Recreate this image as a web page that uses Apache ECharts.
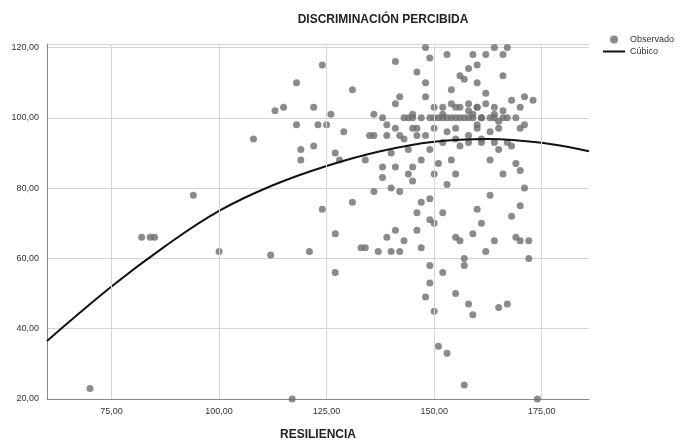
<!DOCTYPE html>
<html lang="es">
<head>
<meta charset="UTF-8">
<script src="https://cdn.jsdelivr.net/npm/echarts@6/dist/echarts.min.js"></script>
<style>body{margin:0;background:#fff}#c{width:684px;height:446px}</style>
</head>
<body>
<div id="c"></div>
<script>
// observed points [resiliencia, discriminacion]
const observed = [
  [70,23],[82,66],[84,66],[85,66],[94,78],[100,62],[108,94],[112,61],[113,102],[115,103],[117,20],[118,110],[118,98],
  [119,91],[119,88],[121,62],[122,103],[122,92],[123,98],[124,74],[124,115],[125,98],[126,101],[127,90],[127,67],[127,56],
  [128,88],[129,96],[131,76],[131,108],[133,63],[134,63],[134,88],[135,95],[136,101],[136,79],[137,62],[138,100],[138,86],
  [139,66],[139,98],[140,62],[140,90],[140,80],[141,68],[141,104],[141,116],[141,97],[142,106],[142,62],[142,79],[143,65],
  [143,94],[144,100],[144,84],[145,86],[145,82],[145,101],[146,113],[146,97],[146,68],[147,88],[147,63],[147,76],[148,110],
  [148,120],[148,95],[148,106],[148,49],[149,58],[149,71],[149,53],[149,117],[149,91],[150,100],[150,70],[150,45],[150,84],
  [151,35],[151,87],[152,56],[152,73],[152,101],[153,118],[153,96],[153,33],[154,100],[154,88],[154,108],[155,103],[155,50],
  [155,66],[156,65],[156,92],[156,100],[157,111],[157,58],[157,60],[157,24],[158,102],[158,114],[158,95],[158,47],[159,118],
  [159,101],[159,67],[159,44],[160,98],[160,103],[160,74],[160,110],[161,70],[161,93],[161,100],[162,62],[162,107],[162,118],
  [163,88],[163,96],[164,101],[164,65],[164,120],[165,91],[165,99],[165,46],[166,84],[166,102],[166,112],[167,93],[167,47],
  [167,120],[168,105],[168,92],[168,72],[169,100],[169,66],[169,87],[170,103],[170,85],[170,75],[170,65],[171,98],[171,106],
  [172,65],[172,60],[173,105],[174,20],[166,118],[156,112],[160,115],
  [143,100],[145,100],[147,100],[149,100],[151,100],[152,100],[153,100],[155,100],[157,100],[158,100],[159,100],[161,100],
  [163,100],[164,100],[166,100],[167,100],[150,103],[152,103],[154,104],[156,103],[158,104],[160,103],[162,104],[164,103],
  [145,97],[150,97],[155,97],[160,97],[165,97],[170,97],[152,93],[155,94],[158,93],[161,94],[164,93],
  [136,95],[139,95],[142,95],[146,95],[144,91],[141,86],[138,83],[153,81],[149,77],[146,73],[155,84],[163,78],[171,80]
];
// fitted cubic
const curve = [[60,36.5],[75,52],[87.5,63.5],[100,73.5],[112.5,80.8],[125,86.3],[137.5,90.5],[150,93.2],[162.5,94],[175,92.9],[186,90.5]];
const xTicks = [75,100,125,150,175];

const chart = echarts.init(document.getElementById('c'));
const fmt = v => v.toFixed(2).replace('.', ',');
chart.setOption({
  animation: false,
  textStyle: {fontFamily: 'Liberation Sans'},
  title: {text: 'DISCRIMINACIÓN PERCIBIDA', left: 378, top: 9, textAlign: 'center',
    textStyle: {fontSize: 12, fontWeight: 'bold', color: '#222'}},
  legend: {orient: 'vertical', left: 598, top: 30, itemGap: 3, itemWidth: 22, itemHeight: 8,
    textStyle: {fontSize: 9, color: '#333'},
    data: [{name: 'Observado', icon: 'circle'}, {name: 'Cúbico', icon: 'path://M0,0H22V2H0Z'}]},
  grid: {left: 47, right: 95, top: 44, bottom: 47},
  xAxis: {type: 'value', min: 60, max: 186, name: 'RESILIENCIA', nameLocation: 'middle', nameGap: 30,
    nameTextStyle: {fontSize: 12, fontWeight: 'bold', color: '#222'},
    axisLine: {lineStyle: {color: '#888'}}, axisTick: {show: false},
    splitLine: {show: false},
    axisLabel: {customValues: xTicks, formatter: fmt, fontSize: 9, color: '#333'}},
  yAxis: {type: 'value', min: 20, max: 121, interval: 20,
    axisLine: {show: true, lineStyle: {color: '#888'}}, axisTick: {show: false},
    splitLine: {lineStyle: {color: '#d4d4d4'}},
    axisLabel: {formatter: fmt, fontSize: 9, color: '#333'}},
  series: [
    {name: 'Observado', type: 'scatter', data: observed, symbolSize: 7,
      itemStyle: {color: '#6e6e6e'},
      markLine: {silent: true, symbol: 'none', label: {show: false},
        lineStyle: {color: '#d4d4d4', type: 'solid', width: 1},
        data: xTicks.map(v => ({xAxis: v}))}},
    {name: 'Cúbico', type: 'line', data: curve, smooth: 0.4, symbol: 'none',
      lineStyle: {color: '#111', width: 2}, itemStyle: {color: '#111'}}
  ]
});
</script>
</body>
</html>
